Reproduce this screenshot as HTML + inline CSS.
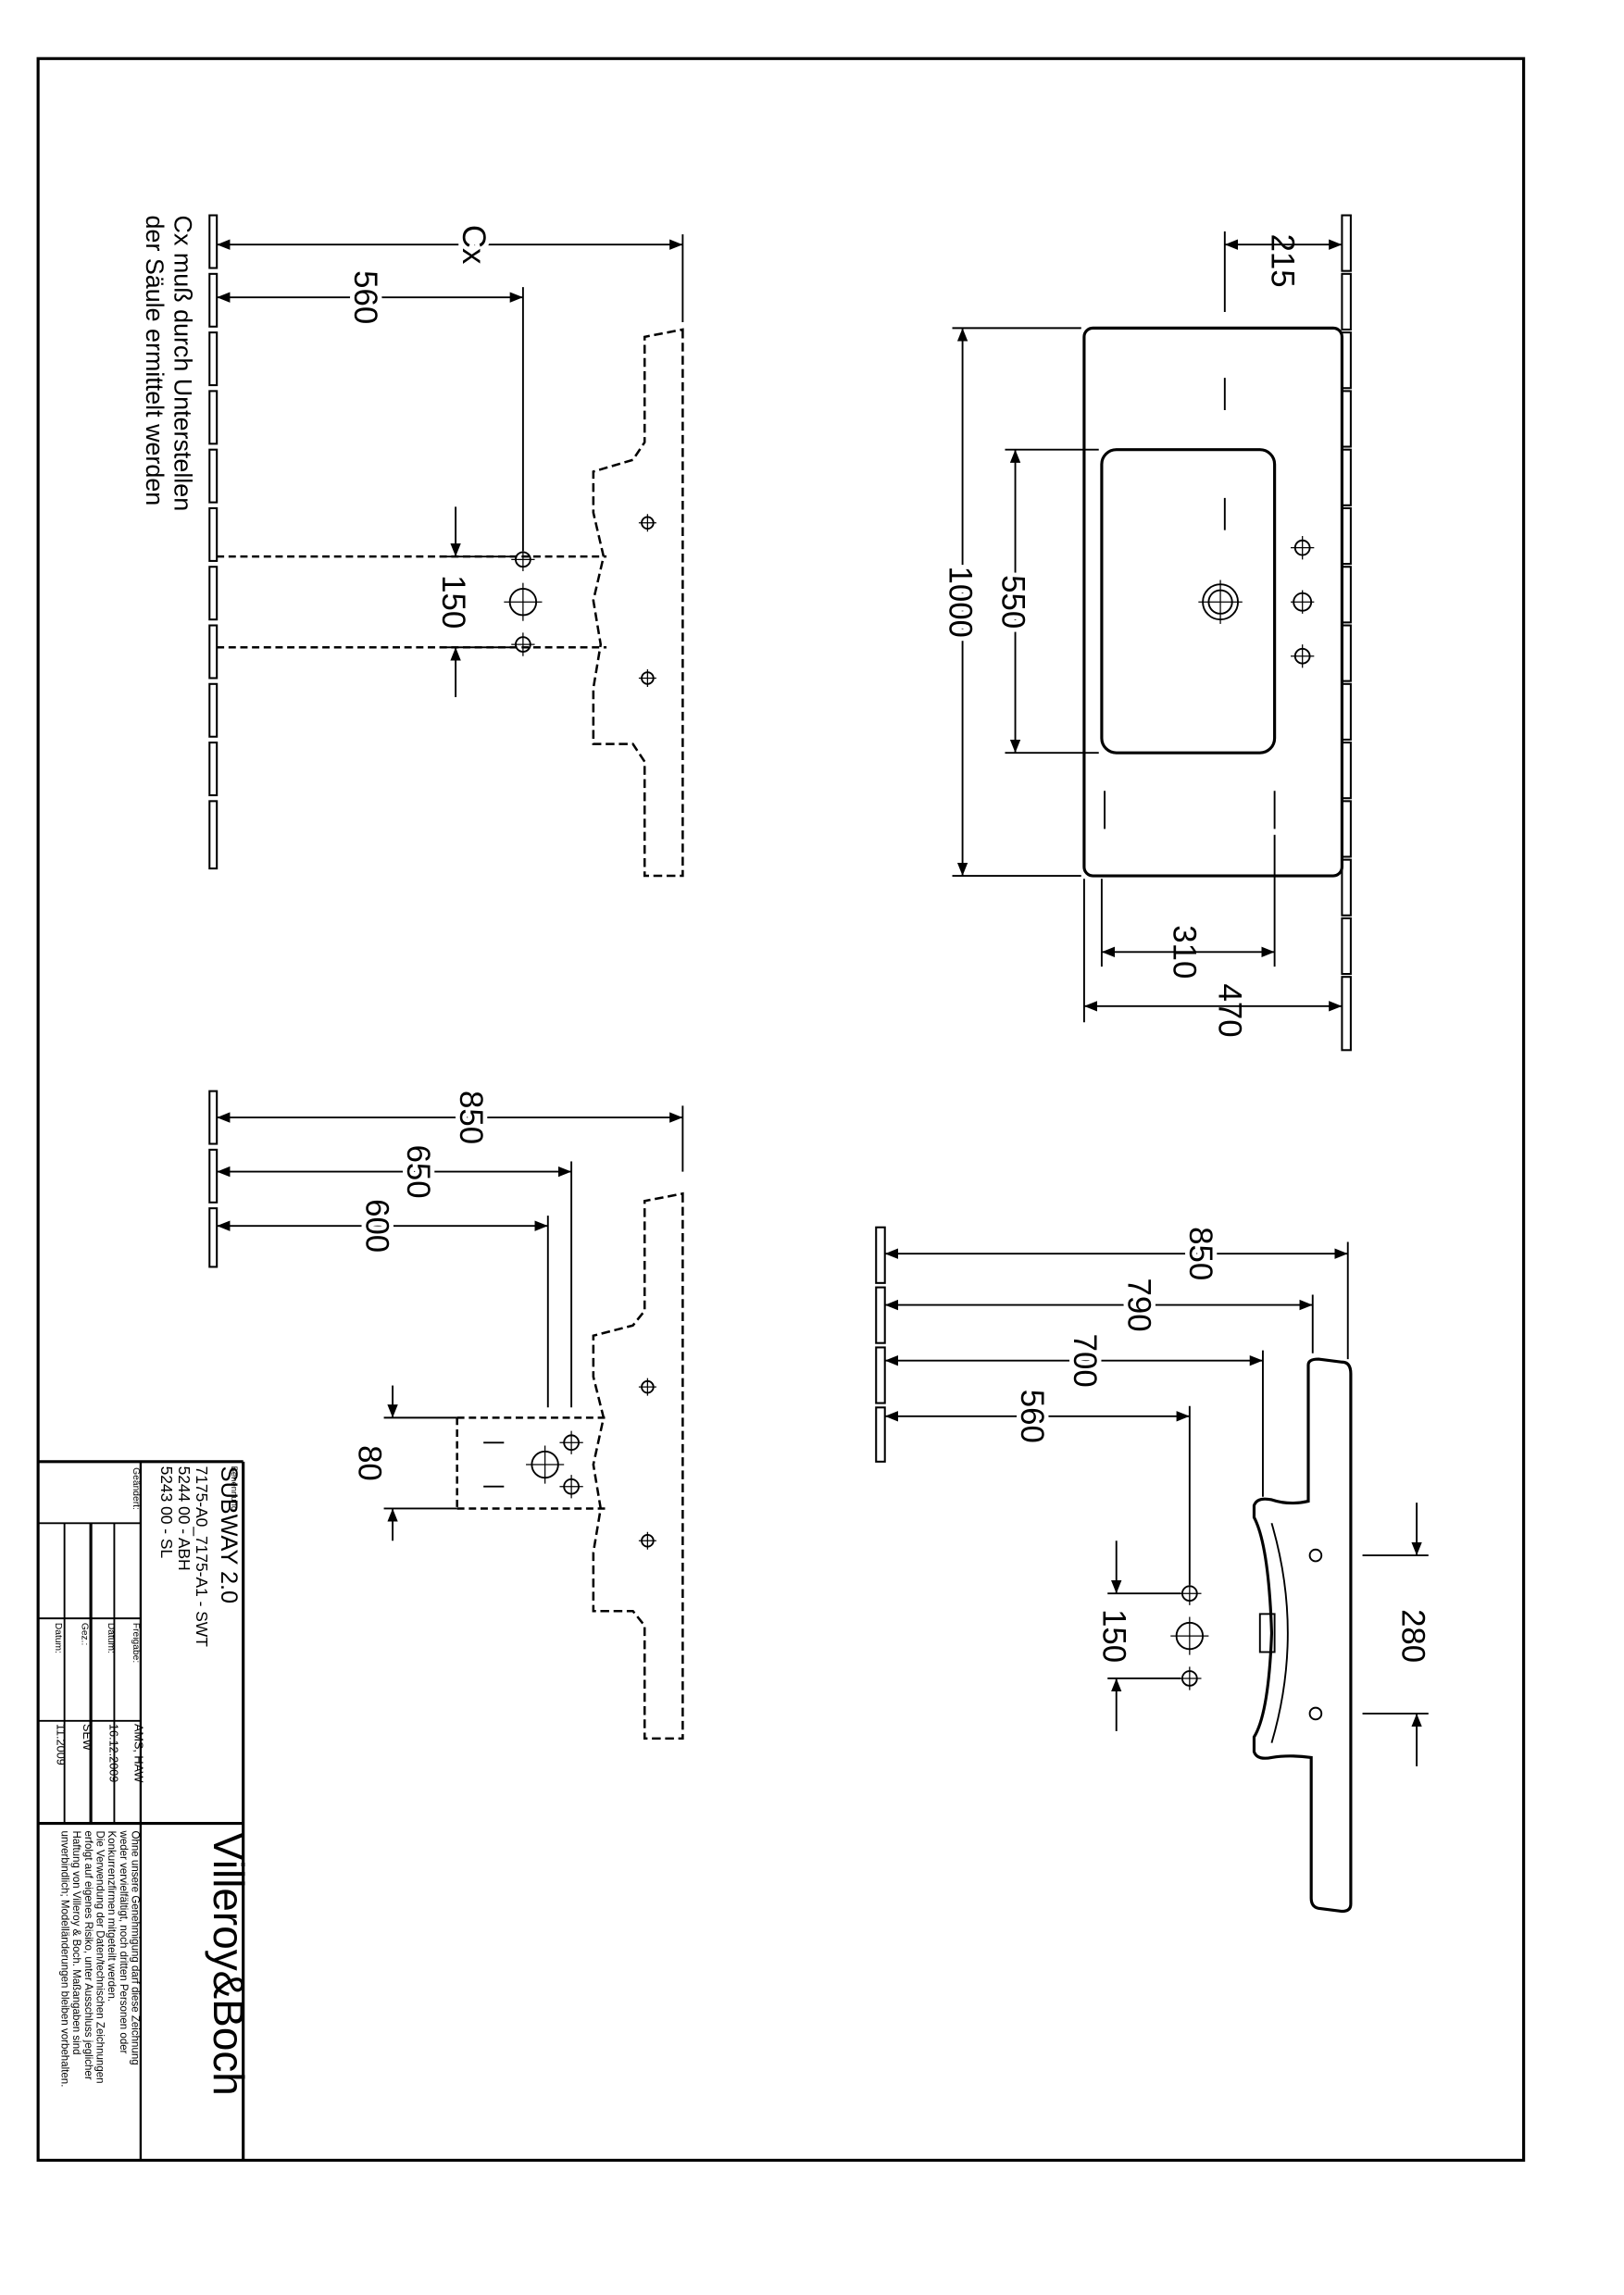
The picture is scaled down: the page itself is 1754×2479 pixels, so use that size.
<!DOCTYPE html>
<html><head><meta charset="utf-8">
<style>
html,body{margin:0;padding:0;background:#fff;}
svg{display:block;}
text{font-family:"Liberation Sans",sans-serif;fill:#000;}
</style></head>
<body>
<svg width="1754" height="2479" viewBox="0 0 1108.5 1567" preserveAspectRatio="none" xmlns="http://www.w3.org/2000/svg">
<defs>
<marker id="a" viewBox="0 0 10 10" refX="10" refY="5" markerWidth="9" markerHeight="9" markerUnits="userSpaceOnUse" orient="auto-start-reverse"><path d="M0,1 L10,5 L0,9 Z" fill="#000"/></marker>
</defs>
<g fill="none" stroke="#000" stroke-width="1.2">
<rect x="26" y="40" width="1014" height="1435" stroke-width="2"/>
<line x1="166" y1="998" x2="166" y2="1475" stroke-width="2"/>
<line x1="26" y1="998" x2="166" y2="998" stroke-width="2"/>
<line x1="26" y1="1245" x2="166" y2="1245" stroke-width="2"/>
<line x1="96" y1="998" x2="96" y2="1475" stroke-width="1.5"/>
<line x1="26" y1="1040" x2="96" y2="1040"/>
<line x1="26" y1="1105" x2="96" y2="1105"/>
<line x1="26" y1="1175" x2="96" y2="1175"/>
<line x1="78" y1="1040" x2="78" y2="1245"/>
<line x1="62" y1="1040" x2="62" y2="1245" stroke-width="2"/>
<line x1="44" y1="1040" x2="44" y2="1245"/>

<rect x="740" y="224" width="176" height="374" rx="6" stroke-width="2"/>
<rect x="752" y="307" width="118" height="207" rx="10" stroke-width="2"/>
<circle cx="833" cy="411" r="12"/><circle cx="833" cy="411" r="8"/>
<line x1="818" y1="411" x2="848" y2="411" stroke-width="0.8"/><line x1="833" y1="396" x2="833" y2="426" stroke-width="0.8"/>
<circle cx="889" cy="374" r="5"/><circle cx="889" cy="411" r="6"/><circle cx="889" cy="448" r="5"/>
<path d="M881,374h16M889,366v16M881,411h16M889,403v16M881,448h16M889,440v16" stroke-width="0.8"/>
<path d="M836,258v22M836,340v22M754,540v26M870,540v26"/>
<g stroke-width="1.3">
<rect x="916" y="147" width="6" height="38"/><rect x="916" y="187" width="6" height="38"/><rect x="916" y="227" width="6" height="38"/><rect x="916" y="267" width="6" height="38"/><rect x="916" y="307" width="6" height="38"/><rect x="916" y="347" width="6" height="38"/><rect x="916" y="387" width="6" height="38"/><rect x="916" y="427" width="6" height="38"/><rect x="916" y="467" width="6" height="38"/><rect x="916" y="507" width="6" height="38"/><rect x="916" y="547" width="6" height="38"/><rect x="916" y="587" width="6" height="38"/><rect x="916" y="627" width="6" height="38"/><rect x="916" y="667" width="6" height="50"/>
</g>
<path d="M836,158v55"/>
<line x1="836" y1="167" x2="916" y2="167" marker-start="url(#a)" marker-end="url(#a)"/>
<path d="M650,224h88M650,598h88M686,307h64M686,514h64"/>
<line x1="657" y1="224" x2="657" y2="598" marker-start="url(#a)" marker-end="url(#a)"/>
<line x1="693" y1="307" x2="693" y2="514" marker-start="url(#a)" marker-end="url(#a)"/>
<path d="M752,600v60M870,570v90M740,600v98"/>
<line x1="752" y1="650" x2="870" y2="650" marker-start="url(#a)" marker-end="url(#a)"/>
<line x1="740" y1="687" x2="916" y2="687" marker-start="url(#a)" marker-end="url(#a)"/>

<g stroke-width="1.3">
<rect x="143" y="147" width="5" height="36"/><rect x="143" y="187" width="5" height="36"/><rect x="143" y="227" width="5" height="36"/><rect x="143" y="267" width="5" height="36"/><rect x="143" y="307" width="5" height="36"/><rect x="143" y="347" width="5" height="36"/><rect x="143" y="387" width="5" height="36"/><rect x="143" y="427" width="5" height="36"/><rect x="143" y="467" width="5" height="36"/><rect x="143" y="507" width="5" height="36"/><rect x="143" y="547" width="5" height="46"/>
</g>
<line x1="148" y1="167" x2="466" y2="167" marker-start="url(#a)" marker-end="url(#a)"/>
<path d="M466,160v60"/>
<line x1="148" y1="203" x2="357" y2="203" marker-start="url(#a)" marker-end="url(#a)"/>
<path d="M357,196v180"/>
<path d="M148,380H414M148,442H414" stroke-dasharray="5,3" stroke-width="1.6"/>
<path d="M466,225V598H440V520L432,508H405V470L410,440L405,410L412,380L405,350L405,322L432,314L440,302V230Z" stroke-dasharray="6,3" stroke-width="1.6"/>
<circle cx="357" cy="382" r="5"/><circle cx="357" cy="411" r="9"/><circle cx="357" cy="440" r="5"/>
<path d="M349,382h16M357,374v16M344,411h26M357,398v26M349,440h16M357,432v16" stroke-width="0.8"/>
<circle cx="442" cy="357" r="4"/><circle cx="442" cy="463" r="4"/>
<path d="M436,357h12M442,351v12M436,463h12M442,457v12" stroke-width="0.8"/>
<path d="M300,380h50M300,442h50"/>
<line x1="311" y1="346" x2="311" y2="380" marker-end="url(#a)"/>
<line x1="311" y1="476" x2="311" y2="442" marker-end="url(#a)"/>

<g stroke-width="1.3">
<rect x="143" y="745" width="5" height="36"/><rect x="143" y="785" width="5" height="36"/><rect x="143" y="825" width="5" height="40"/>
</g>
<line x1="148" y1="763" x2="466" y2="763" marker-start="url(#a)" marker-end="url(#a)"/>
<path d="M466,755v45"/>
<line x1="148" y1="800" x2="390" y2="800" marker-start="url(#a)" marker-end="url(#a)"/>
<line x1="148" y1="837" x2="374" y2="837" marker-start="url(#a)" marker-end="url(#a)"/>
<path d="M390,793v168M374,830v131"/>
<path d="M466,815V1187H440V1110L432,1100H405V1060L410,1030L405,1000L412,968L405,940L405,912L432,905L440,895V820Z" stroke-dasharray="6,3" stroke-width="1.6"/>
<path d="M312,968H414M312,1030H414M312,968V1030" stroke-dasharray="5,3" stroke-width="1.6"/>
<circle cx="372" cy="1000" r="9"/><circle cx="390" cy="985" r="5"/><circle cx="390" cy="1015" r="5"/>
<path d="M359,1000h26M372,987v26M382,985h16M390,977v16M382,1015h16M390,1007v16" stroke-width="0.8"/>
<path d="M330,985h14M330,1015h14" />
<circle cx="442" cy="947" r="4"/><circle cx="442" cy="1052" r="4"/>
<path d="M436,947h12M442,941v12M436,1052h12M442,1046v12" stroke-width="0.8"/>
<path d="M262,968h50M262,1030h50"/>
<line x1="268" y1="946" x2="268" y2="968" marker-end="url(#a)"/>
<line x1="268" y1="1052" x2="268" y2="1030" marker-end="url(#a)"/>

<g stroke-width="1.3">
<rect x="598" y="838" width="6" height="38"/><rect x="598" y="879" width="6" height="38"/><rect x="598" y="920" width="6" height="38"/><rect x="598" y="961" width="6" height="37"/>
</g>
<line x1="604" y1="856" x2="920" y2="856" marker-start="url(#a)" marker-end="url(#a)"/>
<line x1="604" y1="891" x2="896" y2="891" marker-start="url(#a)" marker-end="url(#a)"/>
<line x1="604" y1="929" x2="862" y2="929" marker-start="url(#a)" marker-end="url(#a)"/>
<line x1="604" y1="967" x2="812" y2="967" marker-start="url(#a)" marker-end="url(#a)"/>
<path d="M920,848v80M896,884v40M862,922v100M812,960v122"/>
<path d="M893,932Q893,928 900,928L916,930Q922,930 922,938L922,1300Q922,1305 916,1305L900,1303Q895,1302 895,1296L895,1200Q880,1198 868,1200Q858,1202 856,1196L856,1186Q866,1170 868,1115Q866,1055 856,1036L856,1028Q858,1022 868,1024Q880,1028 893,1025Z" stroke-width="2"/>
<path d="M868,1040Q890,1115 868,1190"/>
<rect x="860" y="1102" width="10" height="26"/>
<circle cx="898" cy="1062" r="4"/><circle cx="898" cy="1170" r="4"/>
<circle cx="812" cy="1088" r="5"/><circle cx="812" cy="1117" r="9"/><circle cx="812" cy="1146" r="5"/>
<path d="M804,1088h16M812,1080v16M799,1117h26M812,1104v26M804,1146h16M812,1138v16" stroke-width="0.8"/>
<path d="M756,1088h50M756,1146h50"/>
<line x1="762" y1="1052" x2="762" y2="1088" marker-end="url(#a)"/>
<line x1="762" y1="1182" x2="762" y2="1146" marker-end="url(#a)"/>
<path d="M930,1062h45M930,1170h45"/>
<line x1="967" y1="1026" x2="967" y2="1062" marker-end="url(#a)"/>
<line x1="967" y1="1206" x2="967" y2="1170" marker-end="url(#a)"/>
</g>

<g font-size="22">
<text transform="translate(868,178) rotate(90)" text-anchor="middle">215</text>
<text transform="translate(648,411) rotate(90)" text-anchor="middle" stroke="#fff" stroke-width="6" paint-order="stroke">1000</text>
<text transform="translate(684,411) rotate(90)" text-anchor="middle" stroke="#fff" stroke-width="6" paint-order="stroke">550</text>
<text transform="translate(801,650) rotate(90)" text-anchor="middle">310</text>
<text transform="translate(832,690) rotate(90)" text-anchor="middle">470</text>
<text transform="translate(316,167) rotate(90)" text-anchor="middle" stroke="#fff" stroke-width="6" paint-order="stroke">Cx</text>
<text transform="translate(242,203) rotate(90)" text-anchor="middle" stroke="#fff" stroke-width="6" paint-order="stroke">560</text>
<text transform="translate(302,411) rotate(90)" text-anchor="middle">150</text>
<text transform="translate(314,763) rotate(90)" text-anchor="middle" stroke="#fff" stroke-width="6" paint-order="stroke">850</text>
<text transform="translate(278,800) rotate(90)" text-anchor="middle" stroke="#fff" stroke-width="6" paint-order="stroke">650</text>
<text transform="translate(250,837) rotate(90)" text-anchor="middle" stroke="#fff" stroke-width="6" paint-order="stroke">600</text>
<text transform="translate(245,999) rotate(90)" text-anchor="middle">80</text>
<text transform="translate(812,856) rotate(90)" text-anchor="middle" stroke="#fff" stroke-width="6" paint-order="stroke">850</text>
<text transform="translate(770,891) rotate(90)" text-anchor="middle" stroke="#fff" stroke-width="6" paint-order="stroke">790</text>
<text transform="translate(733,929) rotate(90)" text-anchor="middle" stroke="#fff" stroke-width="6" paint-order="stroke">700</text>
<text transform="translate(697,967) rotate(90)" text-anchor="middle" stroke="#fff" stroke-width="6" paint-order="stroke">560</text>
<text transform="translate(753,1117) rotate(90)" text-anchor="middle">150</text>
<text transform="translate(957,1117) rotate(90)" text-anchor="middle">280</text>
</g>
<g font-size="17">
<text transform="translate(119,147) rotate(90)">Cx muß durch Unterstellen</text>
<text transform="translate(100,147) rotate(90)">der Säule ermittelt werden</text>
</g>
<text transform="translate(158,1001) rotate(90)" font-size="6">Benennung</text>
<text transform="translate(151,1001) rotate(90)" font-size="16">SUBWAY 2.0</text>
<text transform="translate(134,1001) rotate(90)" font-size="11">7175-A0_7175-A1 - SWT</text>
<text transform="translate(122,1001) rotate(90)" font-size="11">5244 00 - ABH</text>
<text transform="translate(110,1001) rotate(90)" font-size="11">5243 00 - SL</text>
<text transform="translate(91,1002) rotate(90)" font-size="6.5">Geändert:</text>
<text transform="translate(91,1108) rotate(90)" font-size="6.5">Freigabe:</text>
<text transform="translate(92,1177) rotate(90)" font-size="8">AMS; HAW</text>
<text transform="translate(74,1108) rotate(90)" font-size="6.5">Datum:</text>
<text transform="translate(75,1177) rotate(90)" font-size="8">16.12.2009</text>
<text transform="translate(56,1108) rotate(90)" font-size="6.5">Gez.:</text>
<text transform="translate(57,1177) rotate(90)" font-size="8">SEW</text>
<text transform="translate(38,1108) rotate(90)" font-size="6.5">Datum:</text>
<text transform="translate(39,1177) rotate(90)" font-size="8">11.2009</text>
<text transform="translate(146,1251) rotate(90)" font-size="29">Villeroy&amp;Boch</text>
<g font-size="7.3">
<text transform="translate(90,1250) rotate(90)">Ohne unsere Genehmigung darf diese Zeichnung</text>
<text transform="translate(82,1250) rotate(90)">weder vervielfältigt, noch dritten Personen oder</text>
<text transform="translate(74,1250) rotate(90)">Konkurrenzfirmen mitgeteilt werden.</text>
<text transform="translate(66,1250) rotate(90)">Die Verwendung der Daten/technischen Zeichnungen</text>
<text transform="translate(58,1250) rotate(90)">erfolgt auf eigenes Risiko, unter Ausschluss jeglicher</text>
<text transform="translate(50,1250) rotate(90)">Haftung von Villeroy &amp; Boch. Maßangaben sind</text>
<text transform="translate(42,1250) rotate(90)">unverbindlich; Modelländerungen bleiben vorbehalten.</text>
</g>
</svg>
</body></html>
